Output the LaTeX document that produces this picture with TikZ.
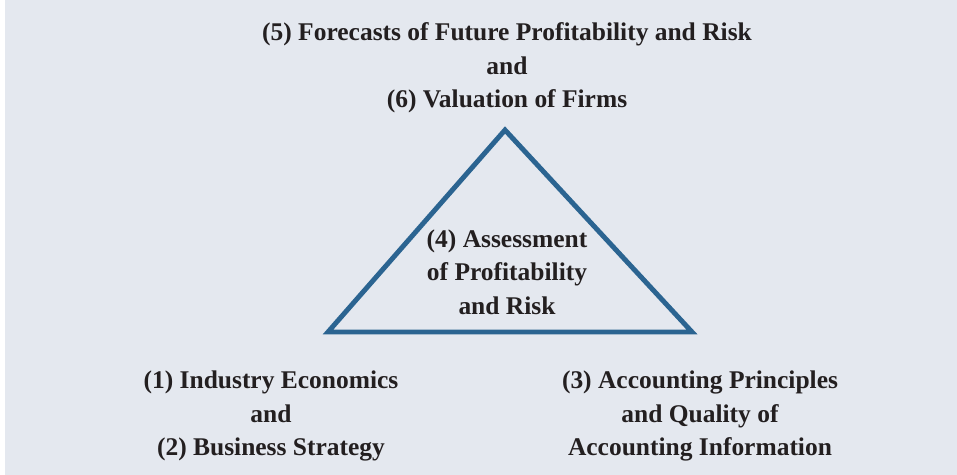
\documentclass[tikz,border=0pt]{standalone}
\usepackage{fontspec}
\setmainfont{Liberation Serif}
\usetikzlibrary{positioning}

\definecolor{bgblue}{HTML}{E4E8EF}
\definecolor{triblue}{HTML}{2B6491}
\definecolor{inkgray}{HTML}{231F20}

\tikzset{
  stage/.style={align=center, text=inkgray, font=\fontsize{14.5}{19}\selectfont\bfseries, inner sep=0pt},
}

\begin{document}
\begin{tikzpicture}[x=0.02cm, y=-0.02cm]
\fill[white] (0,0) rectangle (957,475);
\fill[bgblue] (5,0) rectangle (957,475);
\useasboundingbox (0,0) rectangle (957,475);
\coordinate (apex) at (505,130);
\coordinate (leftc) at (328,332);
\coordinate (rightc) at (692,332);
\draw [triblue, line width=2.8pt, line join=miter] (apex) -- (leftc) -- (rightc) -- cycle;
\node [stage] (future) at (507,68) {(5) Forecasts of Future Profitability and Risk\\and\\(6) Valuation of Firms};
\node [stage] (assess) at (507,272) {(4) Assessment\\of Profitability\\and Risk};
\node [stage] (industry) at (271,416) {(1) Industry Economics\\and\\(2) Business Strategy};
\node [stage] (accounting) at (700,416) {(3) Accounting Principles\\and Quality of\\Accounting Information};
\end{tikzpicture}
\end{document}
